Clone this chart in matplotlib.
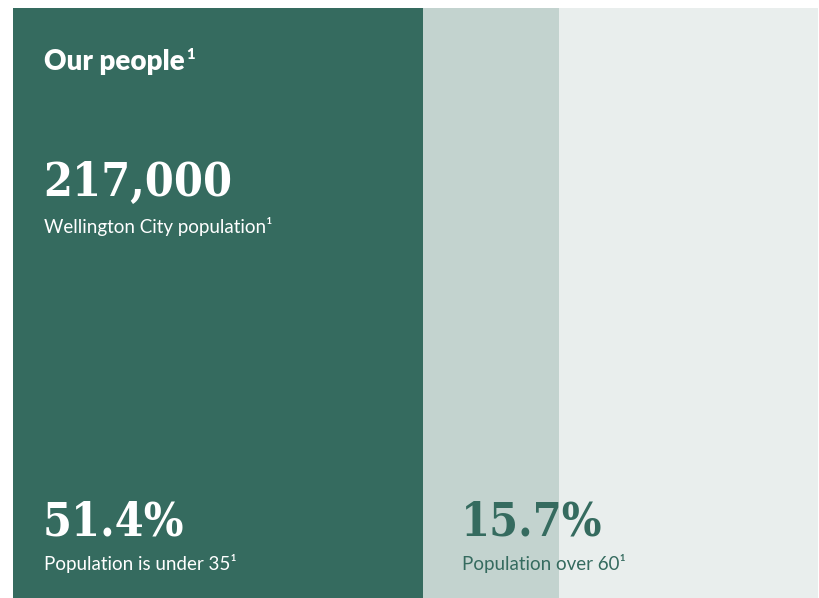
import matplotlib.pyplot as plt

# population shares drawn as one stacked strip (widths)
segments = ['Under 35', '35 to 60', 'Over 60']
shares = [50.9, 16.9, 32.2]
colors = ['#356b5f', '#c3d3cf', '#e9eeed']

headline = '217,000'
headline_label = 'Wellington City population¹'
stats = ['51.4%', '15.7%']
stat_labels = ['Population is under 35¹', 'Population over 60¹']

W, H = 819, 598
fig = plt.figure(figsize=(W / 100, H / 100), dpi=100)
ax = fig.add_axes([13 / W, 0, (818 - 13) / W, 590 / H])

left = 0
for name, val, col in zip(segments, shares, colors):
    ax.barh(0, val, left=left, height=1, color=col, linewidth=0)
    left += val
ax.set_xlim(0, sum(shares))
ax.set_ylim(-0.5, 0.5)
ax.axis('off')

sans = 'Lato'
serif = 'DejaVu Serif'
white = 'white'
green = '#356b5f'


def px(x, y):
    # figure pixel position (from top-left) to figure fraction
    return x / W, 1 - y / H


fig.text(*px(44, 70), 'Our people', family=sans, weight='heavy', fontsize=20,
         color=white, va='baseline')
fig.text(*px(186, 59), '1', family=sans, weight='heavy', fontsize=10.5,
         color=white, va='baseline')

num_kw = dict(family=serif, weight='bold', fontsize=33.5, va='baseline',
              fontstretch='condensed')
fig.text(*px(43, 196), headline, color=white, **num_kw)
fig.text(*px(44, 233), headline_label, family=sans, fontsize=13.5,
         color=white, va='baseline')

fig.text(*px(43, 535), stats[0], color=white, **num_kw)
fig.text(*px(44, 570), stat_labels[0], family=sans, fontsize=13.5,
         color=white, va='baseline')

fig.text(*px(461, 535), stats[1], color=green, **num_kw)
fig.text(*px(462, 570), stat_labels[1], family=sans, fontsize=13.5,
         color=green, va='baseline')

fig.savefig('out.png', dpi=100, facecolor='white')
